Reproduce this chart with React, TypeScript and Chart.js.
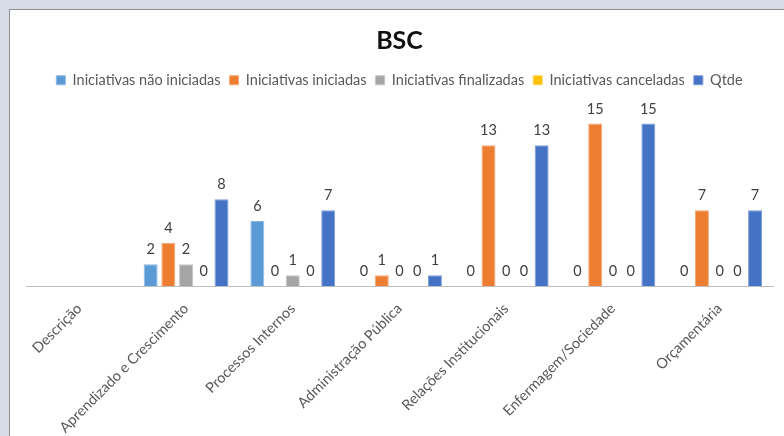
import React, { useEffect, useRef } from "react";
import { Chart, registerables } from "chart.js";

Chart.register(...registerables);

const categories = [
  "Descrição",
  "Aprendizado e Crescimento",
  "Processos Internos",
  "Administração Pública",
  "Relações Institucionais",
  "Enfermagem/Sociedade",
  "Orçamentária",
];

const naoIniciadas = [null, 2, 6, 0, 0, 0, 0];
const iniciadas = [null, 4, 0, 1, 13, 15, 7];
const finalizadas = [null, 2, 1, 0, 0, 0, 0];
const canceladas = [null, 0, 0, 0, 0, 0, 0];
const qtde = [null, 8, 7, 1, 13, 15, 7];

const seriesNames = [
  "Iniciativas não iniciadas",
  "Iniciativas iniciadas",
  "Iniciativas finalizadas",
  "Iniciativas canceladas",
  "Qtde",
];
const seriesColors = ["#5B9BD5", "#ED7D31", "#A5A5A5", "#FFC000", "#4472C4"];
const seriesBorders = ["#8DB9E4", "#F4A774", "#C4C4C4", "#FFD65C", "#7A9BD8"];

const FONT = "Lato, 'Liberation Sans', Arial, sans-serif";

const dataLabels = {
  id: "dataLabels",
  afterDatasetsDraw(chart: any) {
    const ctx = chart.ctx;
    ctx.save();
    ctx.font = `14.5px ${FONT}`;
    ctx.fillStyle = "#404040";
    ctx.textAlign = "center";
    ctx.textBaseline = "alphabetic";
    chart.data.datasets.forEach((ds: any, i: number) => {
      const meta = chart.getDatasetMeta(i);
      if (meta.hidden) return;
      meta.data.forEach((el: any, j: number) => {
        const v = ds.data[j];
        if (v === null || v === undefined) return;
        ctx.fillText(String(v), el.x, el.y - 10);
      });
    });
    ctx.restore();
  },
};

export default function App() {
  const ref = useRef<HTMLCanvasElement | null>(null);
  useEffect(() => {
    if (!ref.current) return;
    const all = [naoIniciadas, iniciadas, finalizadas, canceladas, qtde];
    const chart = new Chart(ref.current, {
      type: "bar",
      data: {
        labels: categories,
        datasets: all.map((d, i) => ({
          label: seriesNames[i],
          data: d,
          backgroundColor: seriesColors[i],
          borderColor: seriesBorders[i],
          borderWidth: 1,
          categoryPercentage: 0.83,
          barPercentage: 0.79,
        })),
      },
      options: {
        animation: false,
        responsive: false,
        maintainAspectRatio: false,
        layout: { padding: { left: 16, right: 11, top: 0, bottom: 0 } },
        plugins: {
          title: {
            display: true,
            text: "BSC",
            color: "#111111",
            font: { family: FONT, size: 25, weight: "bold", lineHeight: 1.2 },
            padding: { top: 15.5, bottom: 8.5 },
          },
          legend: {
            display: true,
            position: "top",
            labels: {
              color: "#595959",
              font: { family: FONT, size: 14.5 },
              boxWidth: 9,
              boxHeight: 9,
              padding: 9,
            },
          },
          tooltip: { enabled: false },
        },
        scales: {
          x: {
            grid: { display: false },
            border: { display: true, color: "#BFBFBF", width: 1 },
            ticks: {
              color: "#595959",
              font: { family: FONT, size: 14.5 },
              maxRotation: 45,
              minRotation: 45,
              autoSkip: false,
              padding: 6,
            },
            afterFit: (s: any) => {
              s.height = 150;
            },
          },
          y: {
            display: false,
            min: 0,
            max: 17.4,
          },
        },
      },
      plugins: [dataLabels],
    });
    return () => chart.destroy();
  }, []);
  return (
    <div style={{ position: "fixed", inset: 0, background: "#D6DCE5" }}>
      <div
        style={{
          position: "absolute",
          left: 9,
          top: 9,
          right: 0,
          bottom: 0,
          background: "#ffffff",
          borderLeft: "1px solid #8F8F8F",
          borderTop: "1px solid #8F8F8F",
        }}
      >
        <canvas ref={ref} width={774} height={426} style={{ display: "block" }} />
      </div>
    </div>
  );
}
